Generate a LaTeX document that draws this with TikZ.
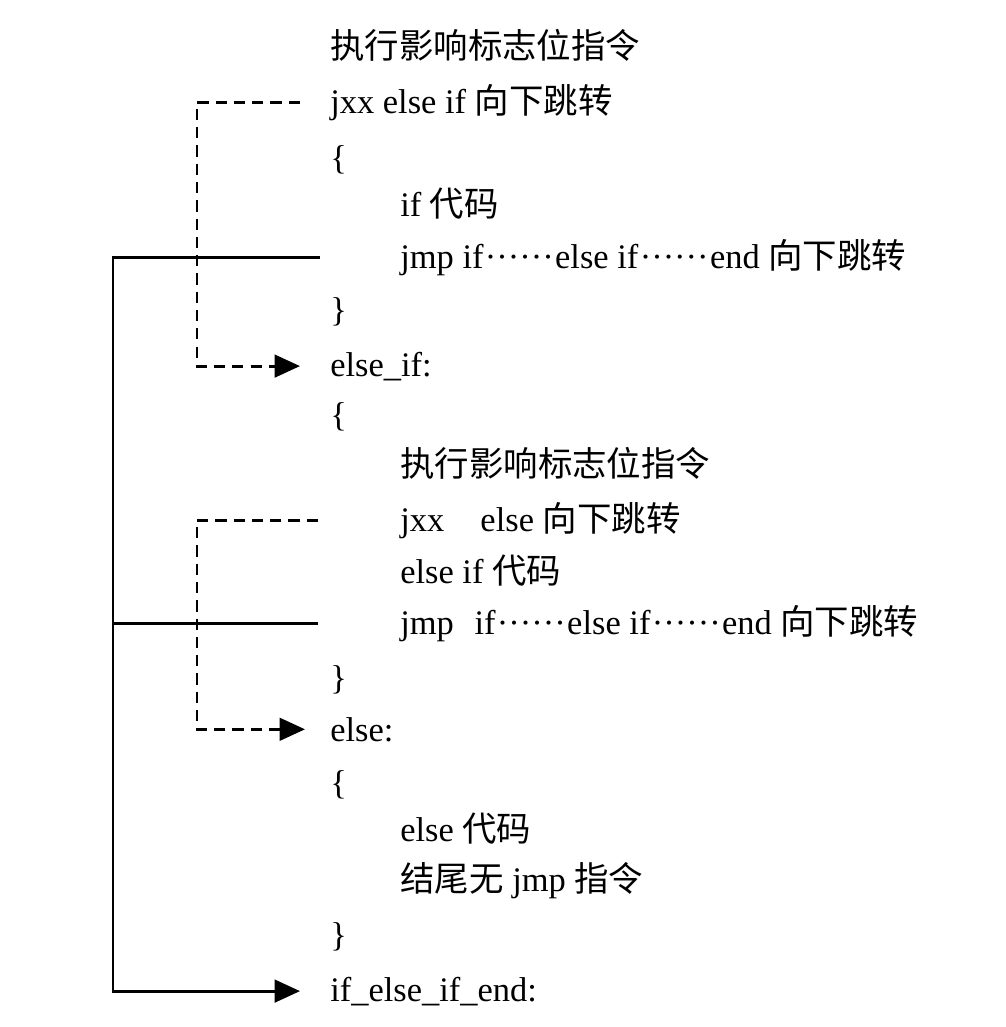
\documentclass[tikz,border=0pt]{standalone}
\usepackage{fontspec}
\setmainfont{Liberation Serif}
\newfontfamily\cjk{Noto Sans CJK SC}
\usetikzlibrary{arrows.meta,calc}
\newcommand{\zh}[1]{{\cjk #1}}
\newcommand{\dotrow}{\kern1pt······\kern1pt}
\tikzset{
  code/.style={anchor=base west,inner sep=0pt,font=\fontsize{24.5}{30}\selectfont},
  jumpline/.style={line width=2.1pt},
  dashline/.style={line width=2.1pt,dash pattern=on 8pt off 5pt},
  tip/.style={-{Triangle[length=18pt,width=16pt]}}
}

\begin{document}
\begin{tikzpicture}[x=0.025cm,y=-0.025cm]
  \useasboundingbox (0,0) rectangle (1006,1027);
  % if block
  \node[code] (flag1) at (330,58) {\zh{执行影响标志位指令}};
  \node[code] (jxx1) at (330,113) {jxx else if \zh{向下跳转}};
  \node[code] (open1) at (330,169) {\{};
  \node[code] (ifcode) at (400,216) {if \zh{代码}};
  \node[code] (jmp1) at (400,268) {jmp if\dotrow else if\dotrow end \zh{向下跳转}};
  \node[code] (close1) at (330,321) {\}};
  % else if block
  \node[code] (elif) at (330,376) {else\_if:};
  \node[code] (open2) at (330,426) {\{};
  \node[code] (flag2) at (400,476) {\zh{执行影响标志位指令}};
  \node[code] (jxx2) at (400,531) {jxx\hspace{0.8em} else \zh{向下跳转}};
  \node[code] (elifcode) at (400,583) {else if \zh{代码}};
  \node[code] (jmp2) at (400,634) {jmp\hspace{0.35em} if\dotrow else if\dotrow end \zh{向下跳转}};
  \node[code] (close2) at (330,689) {\}};
  % else block
  \node[code] (els) at (330,741) {else:};
  \node[code] (open3) at (330,794) {\{};
  \node[code] (elscode) at (400,841) {else \zh{代码}};
  \node[code] (nojmp) at (400,891) {\zh{结尾无} jmp \zh{指令}};
  \node[code] (close3) at (330,946) {\}};
  \node[code] (ifend) at (330,1001) {if\_else\_if\_end:};

  % jumps
  \coordinate (dcol) at (197,0);
  \coordinate (scol) at (113,0);
  \draw[dashline,tip] ($(jxx1.west)+(-30,0)$) -- (jxx1.west -| dcol)
    |- ($(elif.west)+(-30,0)$);
  \draw[dashline,tip] ($(jxx2.west)+(-82,0)$) -- (jxx2.west -| dcol)
    |- ($(els.west)+(-25,0)$);
  \draw[jumpline,tip] ($(jmp1.west)+(-80,0)$) -- (jmp1.west -| scol)
    |- ($(ifend.west)+(-30,0)$);
  \draw[jumpline] ($(jmp2.west)+(-82,0)$) -- (jmp2.west -| scol);
\end{tikzpicture}
\end{document}
